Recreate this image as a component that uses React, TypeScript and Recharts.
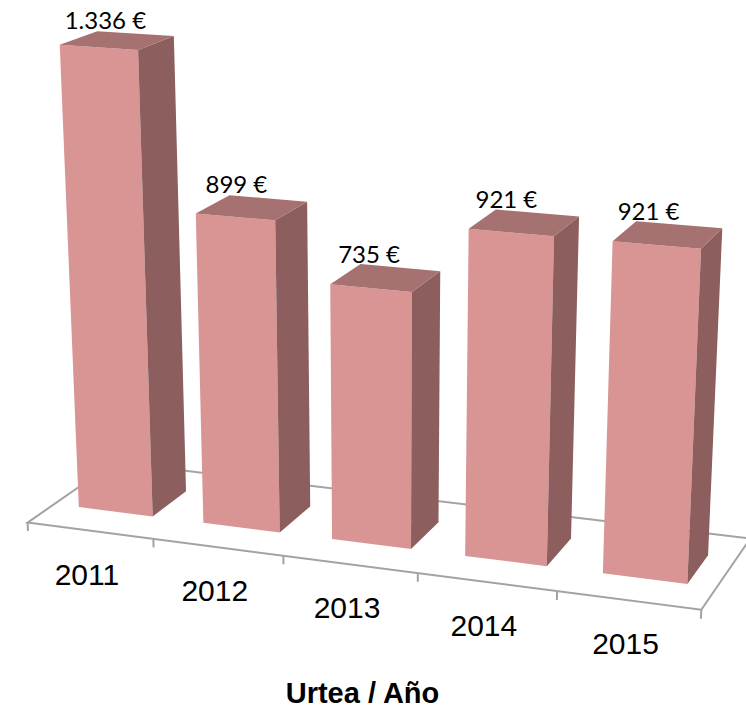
import { BarChart, Bar, XAxis, YAxis, LabelList } from 'recharts';

const years = ['2011', '2012', '2013', '2014', '2015'];
const costs = [1336, 899, 735, 921, 921];
const axisTitle = 'Urtea / Año';

const data = years.map((year, i) => ({ year, cost: costs[i] }));

const W = 746;
const H = 708;
const MARGIN = { top: 10, right: 26, bottom: 137, left: 25 };
const AXIS_H = 30;
const PLOT_W = W - MARGIN.left - MARGIN.right;
const BAND = PLOT_W / years.length;
const BAR_W = BAND * 0.6;
const CX_FLAT = MARGIN.left + PLOT_W / 2;

// simple perspective camera for the fake 3D look
const YAW = (20 * Math.PI) / 180;
const PITCH = (20 * Math.PI) / 180;
const FOCAL = 2700;
const CAM_DIST = 2700;
const SCREEN_X = 386;
const SCREEN_Y = 530.5;
const GAP_Z = 60;
const FLOOR_D = GAP_Z * 2 + BAR_W;

const FRONT = '#D99594';
const SIDE = '#8C5E5E';
const TOP = '#A57271';
const FLOOR = '#A3A3A3';

function project(X: number, Y: number, Z: number): [number, number] {
  const zc = Z - FLOOR_D / 2;
  const x1 = X * Math.cos(YAW) + zc * Math.sin(YAW);
  const z1 = -X * Math.sin(YAW) + zc * Math.cos(YAW);
  const y2 = Y * Math.cos(PITCH) + z1 * Math.sin(PITCH);
  const z2 = -Y * Math.sin(PITCH) + z1 * Math.cos(PITCH);
  const d = CAM_DIST + z2;
  return [SCREEN_X + (FOCAL * x1) / d, SCREEN_Y - (FOCAL * y2) / d];
}

const pts = (list: number[][]) =>
  list.map(([X, Y, Z]) => project(X, Y, Z).join(',')).join(' ');

const fmt = (v: number) => String(v).replace(/\B(?=(\d{3})+(?!\d))/g, '.') + ' €';

function Floor() {
  const l = -PLOT_W / 2;
  const r = PLOT_W / 2;
  const ticks = [];
  for (let k = 0; k <= years.length; k++) {
    const X = l + k * BAND;
    const [ax, ay] = project(X, 0, 0);
    const [bx, by] = project(X, -9, 0);
    ticks.push(<line key={k} x1={ax} y1={ay} x2={bx} y2={by} stroke={FLOOR} strokeWidth={2} />);
  }
  return (
    <g>
      <polygon
        points={pts([[l, 0, 0], [r, 0, 0], [r, 0, FLOOR_D], [l, 0, FLOOR_D]])}
        fill="none"
        stroke={FLOOR}
        strokeWidth={2}
      />
      {ticks}
    </g>
  );
}

function Box(props: any) {
  const { x, width, height, index } = props;
  const xa = x - CX_FLAT;
  const xb = x + width - CX_FLAT;
  const za = GAP_Z;
  const zb = GAP_Z + width;
  const h = height;
  return (
    <g>
      {index === 0 && <Floor />}
      <polygon points={pts([[xa, 0, za], [xb, 0, za], [xb, h, za], [xa, h, za]])} fill={FRONT} />
      <polygon points={pts([[xb, 0, za], [xb, 0, zb], [xb, h, zb], [xb, h, za]])} fill={SIDE} />
      <polygon points={pts([[xa, h, za], [xb, h, za], [xb, h, zb], [xa, h, zb]])} fill={TOP} />
    </g>
  );
}

function ValueLabel(props: any) {
  const vb = props.viewBox ?? props;
  const { x, width, height } = vb;
  const xc = x + width / 2 - CX_FLAT;
  const h = Math.abs(height);
  const [fx] = project(xc, h / 2, GAP_Z);
  const [, by] = project(xc, h, GAP_Z + width);
  return (
    <text x={fx - 2} y={by - 5} textAnchor="middle" fontFamily="Lato, sans-serif" fontSize={24} fill="#000">
      {fmt(props.value)}
    </text>
  );
}

function YearTick(props: any) {
  const { x, payload } = props;
  const [sx, sy] = project(x - CX_FLAT, 0, 0);
  return (
    <text x={sx - 3} y={sy + 54} textAnchor="middle" fontFamily="'Liberation Sans', Arial, sans-serif" fontSize={30} fill="#000">
      {payload.value}
    </text>
  );
}

function AxisTitle(props: any) {
  const vb = props.viewBox;
  return (
    <text
      x={vb.x + vb.width / 2 - 10}
      y={703}
      textAnchor="middle"
      fontFamily="'Liberation Sans', Arial, sans-serif"
      fontWeight="bold"
      fontSize={29}
      fill="#000"
    >
      {axisTitle}
    </text>
  );
}

export default function App() {
  return (
    <div style={{ position: 'absolute', left: 0, top: 0, background: '#fff' }}>
      <BarChart width={W} height={H} data={data} margin={MARGIN} barCategoryGap="20%">
        <XAxis
          dataKey="year"
          height={AXIS_H}
          axisLine={false}
          tickLine={false}
          interval={0}
          tick={YearTick}
          label={{ value: axisTitle, content: AxisTitle }}
        />
        <YAxis hide domain={[0, 1500]} />
        <Bar dataKey="cost" shape={Box} isAnimationActive={false}>
          <LabelList dataKey="cost" content={ValueLabel} />
        </Bar>
      </BarChart>
    </div>
  );
}
